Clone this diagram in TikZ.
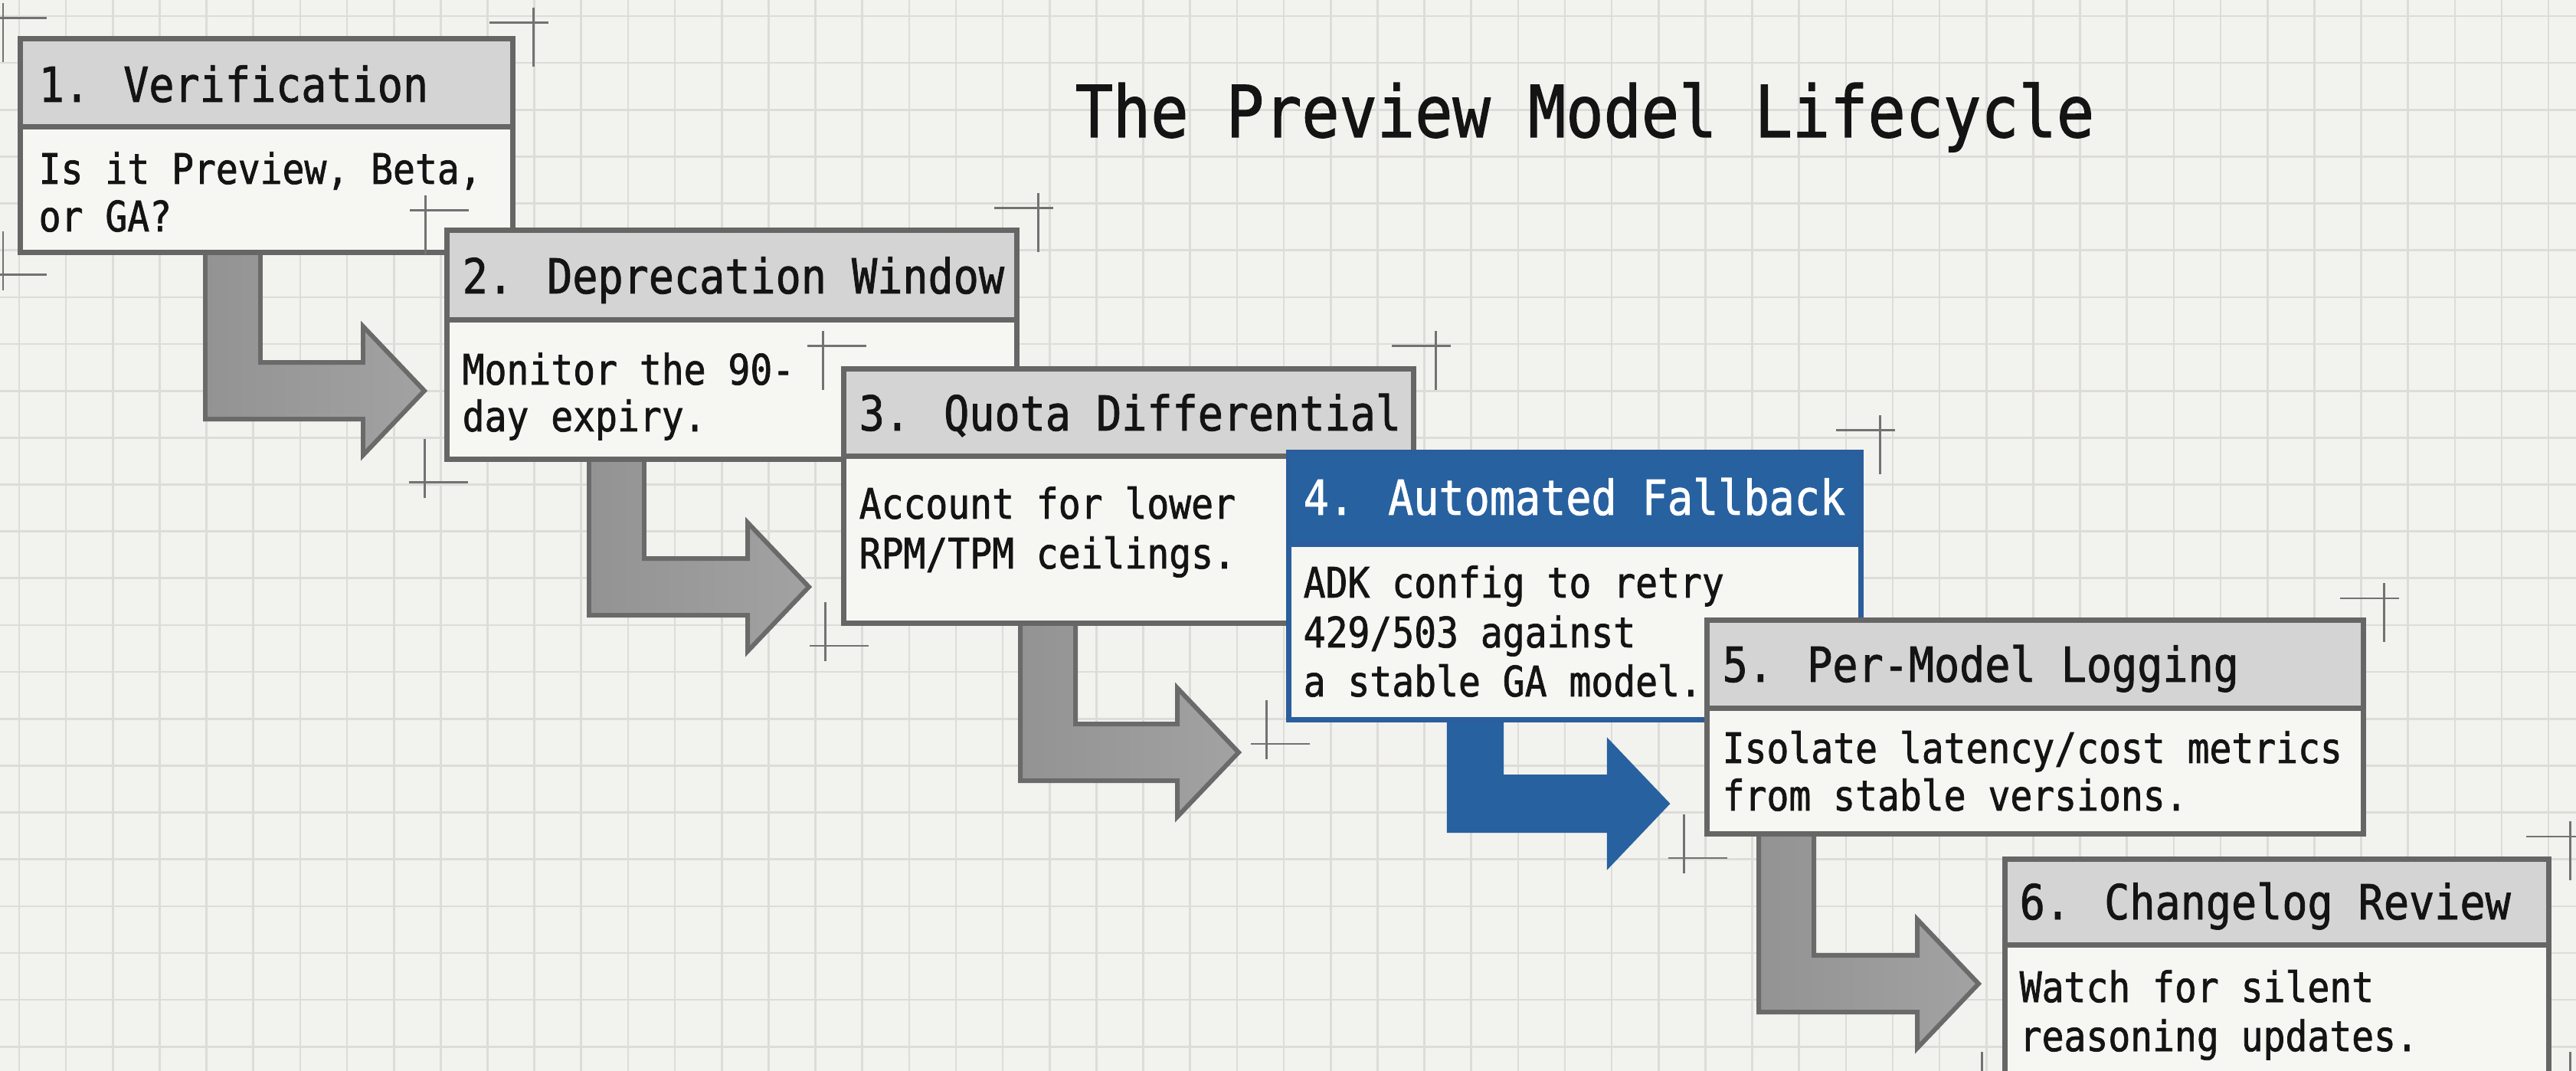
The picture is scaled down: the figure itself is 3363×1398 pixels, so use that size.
\documentclass[tikz,border=0pt]{standalone}
\usepackage{fontspec}
\usetikzlibrary{calc}
\newfontfamily\cardfont[FakeStretch=0.875, FakeBold=1.3]{DejaVu Sans Mono}

\definecolor{paper}{HTML}{F2F2EE}
\definecolor{gridc}{HTML}{DDDCD8}
\definecolor{cardline}{HTML}{666666}
\definecolor{cardhead}{HTML}{D4D4D4}
\definecolor{cardbody}{HTML}{F6F6F3}
\definecolor{inkc}{HTML}{141414}
\definecolor{markc}{HTML}{727272}
\definecolor{bluehead}{HTML}{2761A0}
\definecolor{blueline}{HTML}{2A5E9C}
\definecolor{arrowline}{HTML}{6A6A6A}
\definecolor{arrowdark}{HTML}{939393}
\definecolor{arrowlight}{HTML}{A2A2A2}

\tikzset{
  gridline/.style={draw=gridc, line width=0.75pt},
  regline/.style={draw=markc, line width=0.85pt},
  % card: border colour, header fill, header height
  cardbox/.style n args={3}{draw=#1, fill=cardbody, line width=2pt, rectangle,
    inner sep=0pt, outer sep=0pt, anchor=north west,
    path picture={
      \fill[#2] (path picture bounding box.north west) rectangle
        ([yshift=-#3]path picture bounding box.north east);
      \draw[#1, line width=2pt] ([yshift=-#3]path picture bounding box.north west)
        -- ([yshift=-#3]path picture bounding box.north east);
    }},
  slot/.style={rectangle, inner sep=0pt, outer sep=0pt, anchor=north west},
  headtxt/.style={anchor=base west, inner sep=0pt, text=inkc,
    font=\cardfont\fontsize{17.9pt}{21pt}\selectfont},
  bodytxt/.style={anchor=base west, inner sep=0pt, text=inkc,
    font=\cardfont\fontsize{15.6pt}{18pt}\selectfont},
  titletxt/.style={anchor=base, inner sep=0pt, text=inkc,
    font=\cardfont\fontsize{26.6pt}{30pt}\selectfont},
  grayflow/.style={draw=arrowline, line width=1.7pt, line join=miter,
    left color=arrowdark, right color=arrowlight},
  blueflow/.style={draw=bluehead, line width=0.6pt, fill=bluehead, line join=miter},
}

% registration cross: centre x, centre y, long-arm direction in x and in y
\newcommand\regmark[4]{%
  \draw[regline] ({#1-38.5+18.5*(#3)},#2) -- ({#1+38.5+18.5*(#3)},#2)
                 (#1,{#2-38.5+18.5*(#4)}) -- (#1,{#2+38.5+18.5*(#4)});}

% bent block arrow: top-left of the stem, tip, style
\newcommand\stepflow[3]{%
  \coordinate (fa) at ($(#2)+(0,-37)$);
  \coordinate (fb) at ($(#2)+(0,37)$);
  \coordinate (fc) at ($(#2)+(-80,-84)$);
  \coordinate (fd) at ($(#2)+(-80,84)$);
  \coordinate (fe) at ($(#1)+(72,0)$);
  \path[#3] (#1) -- (#1 |- fb) -- (fd |- fb) -- (fd) -- (#2) -- (fc)
    -- (fc |- fa) -- (fe |- fa) -- (fe) -- cycle;}

\begin{document}
\begin{tikzpicture}[x=0.01cm, y=-0.01cm]
\useasboundingbox (0,0) rectangle (3363,1398);
\clip (0,0) rectangle (3363,1398);
\fill[paper] (0,0) rectangle (3363,1398);

% squared paper
\foreach \k in {0,...,54} \draw[gridline] ({25+61.15*\k},0) -- ({25+61.15*\k},1398);
\foreach \k in {0,...,22} \draw[gridline] (0,{21+61.15*\k}) -- (3363,{21+61.15*\k});

% card slots (placement only; the cards are drawn over the arrows below)
\node[slot, minimum width=6.43cm, minimum height=2.79cm] (b1) at (26.5,50.5) {};
\node[slot, minimum width=7.44cm, minimum height=2.99cm] (b2) at (583.5,300.5) {};
\node[slot, minimum width=7.44cm, minimum height=3.32cm] (b3) at (1101.5,481.5) {};
\node[slot, minimum width=7.47cm, minimum height=3.49cm] (b4) at (1682.5,590.5) {};
\node[slot, minimum width=8.56cm, minimum height=2.79cm] (b5) at (2228.5,809.5) {};
\node[slot, minimum width=7.10cm, minimum height=4.00cm] (b6) at (2617.5,1121.5) {};

% flow arrows between the cards
\coordinate (s1) at ($(b1.south west)+(241.5,0)$);
\coordinate (t1) at ($(b2.west)+(-29.5,60)$);
\coordinate (s2) at ($(b2.south west)+(185.5,0)$);
\coordinate (t2) at ($(b3.west)+(-45.5,118.5)$);
\coordinate (s3) at ($(b3.south west)+(230.5,0)$);
\coordinate (t3) at ($(b4.west)+(-65.5,217)$);
\coordinate (s4) at ($(b4.south west)+(207.5,0)$);
\coordinate (t4) at ($(b5.west)+(-49.5,100)$);
\coordinate (s5) at ($(b5.south west)+(67.5,0)$);
\coordinate (t5) at ($(b6.west)+(-34.5,-37.5)$);
\stepflow{s1}{t1}{grayflow}
\stepflow{s2}{t2}{grayflow}
\stepflow{s3}{t3}{grayflow}
\stepflow{s4}{t4}{blueflow}
\stepflow{s5}{t5}{grayflow}

% title
\node[titletxt] (title) at (2069,179) {The Preview Model Lifecycle};

% card 1
\regmark{4}{24}{1}{1}
\regmark{696}{30}{-1}{1}
\regmark{4}{359}{1}{-1}
\node[cardbox={cardline}{cardhead}{1.145cm}, minimum width=6.43cm, minimum height=2.79cm] (c1) at (b1.north west) {};
\node[headtxt] (h1) at (50,133) {1. Verification};
\node[bodytxt] (p1a) at (50,240) {Is it Preview, Beta,};
\node[bodytxt] (p1b) at (50,302) {or GA?};

% card 2
\regmark{555}{275}{1}{1}
\regmark{1355}{272}{-1}{1}
\regmark{554}{630}{1}{-1}
\node[cardbox={cardline}{cardhead}{1.165cm}, minimum width=7.44cm, minimum height=2.99cm] (c2) at (b2.north west) {};
\node[headtxt] (h2) at (603,383) {2. Deprecation Window};
\node[bodytxt] (p2a) at (603,502) {Monitor the 90-};
\node[bodytxt] (p2b) at (603,563) {day expiry.};

% card 3
\regmark{1074}{452}{1}{1}
\regmark{1874}{452}{-1}{1}
\regmark{1077}{843}{1}{-1}
\node[cardbox={cardline}{cardhead}{1.135cm}, minimum width=7.44cm, minimum height=3.32cm] (c3) at (b3.north west) {};
\node[headtxt] (h3) at (1121,562) {3. Quota Differential};
\node[bodytxt] (p3a) at (1121,677) {Account for lower};
\node[bodytxt] (p3b) at (1121,742) {RPM/TPM ceilings.};

% card 4 (highlighted)
\regmark{2454}{562}{-1}{1}
\regmark{1653}{971}{1}{-1}
\node[cardbox={blueline}{bluehead}{1.195cm}, minimum width=7.47cm, minimum height=3.49cm] (c4) at (b4.north west) {};
\node[headtxt, text=white] (h4) at (1701,672) {4. Automated Fallback};
\node[bodytxt] (p4a) at (1701,780) {ADK config to retry};
\node[bodytxt] (p4b) at (1701,845) {429/503 against};
\node[bodytxt] (p4c) at (1701,909) {a stable GA model.};

% card 5
\regmark{3112}{781}{-1}{1}
\regmark{2198}{1120}{1}{-1}
\node[cardbox={cardline}{cardhead}{1.145cm}, minimum width=8.56cm, minimum height=2.79cm] (c5) at (b5.north west) {};
\node[headtxt] (h5) at (2248,890) {5. Per-Model Logging};
\node[bodytxt] (p5a) at (2248,996) {Isolate latency/cost metrics};
\node[bodytxt] (p5b) at (2248,1058) {from stable versions.};

% card 6
\regmark{3355}{1092}{-1}{1}
\regmark{2587}{1430}{1}{-1}
\regmark{3355}{1430}{-1}{-1}
\node[cardbox={cardline}{cardhead}{1.115cm}, minimum width=7.10cm, minimum height=4.00cm] (c6) at (b6.north west) {};
\node[headtxt] (h6) at (2636,1200) {6. Changelog Review};
\node[bodytxt] (p6a) at (2636,1308) {Watch for silent};
\node[bodytxt] (p6b) at (2636,1372) {reasoning updates.};
\end{tikzpicture}
\end{document}
